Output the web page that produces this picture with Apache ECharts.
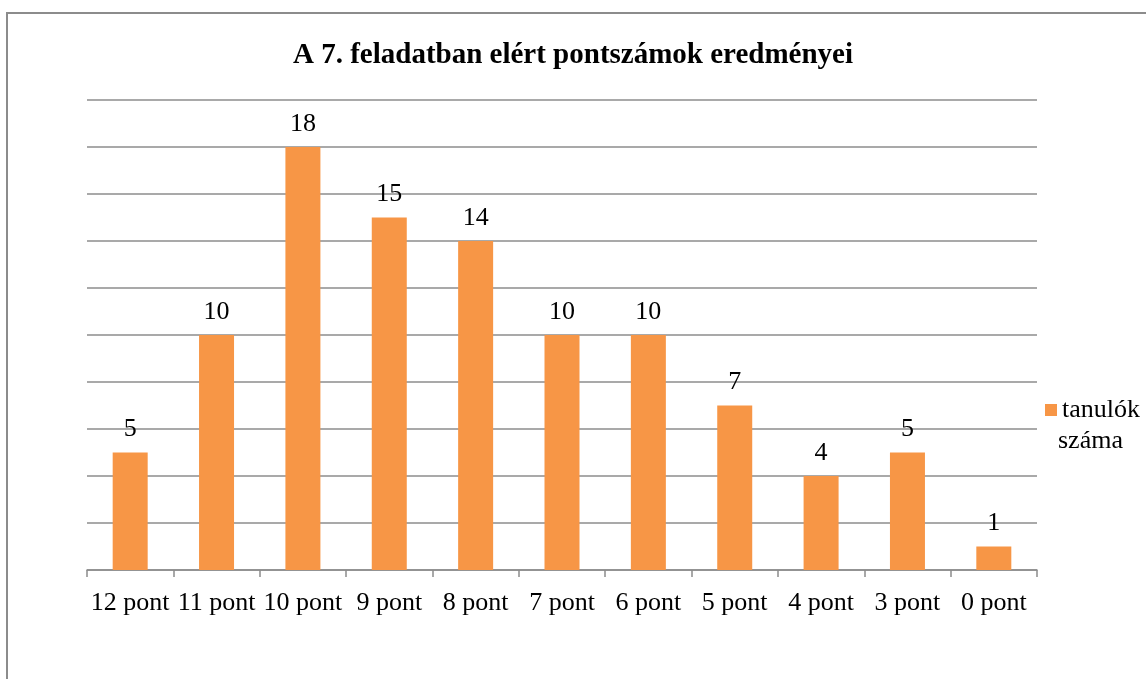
<!DOCTYPE html>
<html>
<head>
<meta charset="utf-8">
<script src="https://cdn.jsdelivr.net/npm/echarts@6/dist/echarts.min.js"></script>
<style>
    html, body { margin: 0; padding: 0; background: #fff; }
    #main { width: 1146px; height: 679px; }
</style>
</head>
<body>
<div id="main"></div>
<script>
var categories = ['12 pont', '11 pont', '10 pont', '9 pont', '8 pont', '7 pont', '6 pont', '5 pont', '4 pont', '3 pont', '0 pont'];
var studentCounts = [5, 10, 18, 15, 14, 10, 10, 7, 4, 5, 1];
var legendLines = ['tanulók', 'száma'];

var serif = '"Liberation Serif", "Times New Roman", serif';

var myChart = echarts.init(document.getElementById('main'));

// a jelmagyarazat elso sora a legendben, a masodik kulon szovegkent
var option = {
    backgroundColor: '#fff',
    animation: false,
    title: {
        text: 'A 7. feladatban elért pontszámok eredményei',
        left: 'center',
        top: 36,
        textStyle: {
            fontFamily: serif,
            fontWeight: 'bold',
            fontSize: 29,
            color: '#000'
        }
    },
    legend: {
        data: [legendLines[0]],
        left: 1040,
        top: 392,
        itemWidth: 12,
        itemHeight: 12,
        itemGap: 5,
        icon: 'rect',
        textStyle: {
            fontFamily: serif,
            fontSize: 26,
            color: '#000'
        }
    },
    grid: {
        left: 87,
        right: 109,
        top: 100,
        bottom: 109
    },
    xAxis: {
        type: 'category',
        data: categories,
        axisLine: { lineStyle: { color: '#8c8c8c', width: 1.5 } },
        axisTick: { show: true, length: 7, lineStyle: { color: '#8c8c8c', width: 1.5 } },
        axisLabel: {
            interval: 0,
            margin: 20,
            fontFamily: serif,
            fontSize: 26,
            color: '#000'
        }
    },
    yAxis: {
        type: 'value',
        min: 0,
        max: 20,
        interval: 2,
        axisLine: { show: false },
        axisTick: { show: false },
        axisLabel: { show: false },
        splitLine: { lineStyle: { color: '#8c8c8c', width: 1.5 } }
    },
    series: [
        {
            name: legendLines[0],
            type: 'bar',
            data: studentCounts,
            barWidth: 35,
            itemStyle: { color: '#f79646' },
            label: {
                show: true,
                position: 'top',
                distance: 10,
                fontFamily: serif,
                fontSize: 26,
                color: '#000'
            }
        }
    ],
    graphic: [
        {
            type: 'rect',
            shape: { x: 7, y: 13, width: 1200, height: 700 },
            style: { fill: 'none', stroke: '#8c8c8c', lineWidth: 2 },
            silent: true
        },
        {
            type: 'text',
            left: 1058,
            top: 428,
            style: {
                text: legendLines[1],
                font: '26px ' + serif,
                fill: '#000'
            },
            silent: true
        }
    ]
};

myChart.setOption(option);
</script>
</body>
</html>
